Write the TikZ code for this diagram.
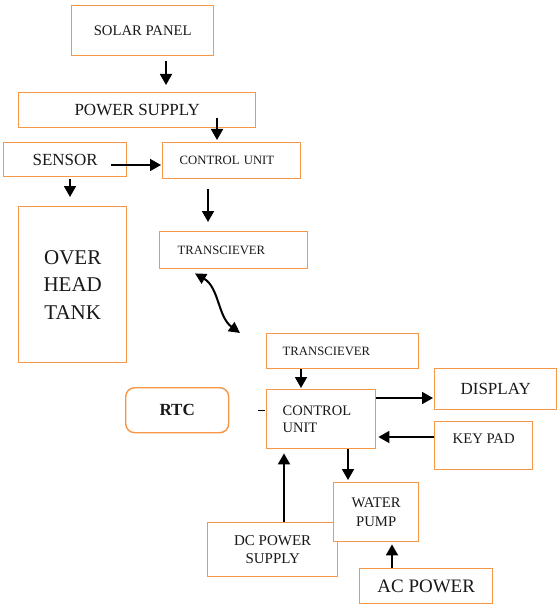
\documentclass[tikz,border=0pt]{standalone}
\usepackage{fontspec}
\setmainfont{Liberation Serif}
\usetikzlibrary{arrows.meta, calc}
\definecolor{boxorange}{RGB}{247,150,70}

\begin{document}
\begin{tikzpicture}[x=1pt, y=-1pt,
  blk/.style={draw=boxorange, line width=1.4pt, fill=white, inner sep=0pt, anchor=north west, text=black!90, align=center},
  arr/.style={-{Triangle[length=11pt,width=12pt]}, line width=1.8pt, black},
  arrtwo/.style={{Triangle[length=11pt,width=11pt]}-{Triangle[length=11pt,width=11pt]}, line width=2pt, black}]
\useasboundingbox (0,0) rectangle (557,604);

%the solar side
\node[blk, minimum width=237pt, minimum height=35pt, font=\fontsize{17}{20}\selectfont] (power) at (18,92) {POWER SUPPLY};
\node[blk, minimum width=142pt, minimum height=50pt, font=\fontsize{14.7}{17}\selectfont] (solar) at (71,5) {SOLAR PANEL};
\node[blk, minimum width=123pt, minimum height=34pt, font=\fontsize{17}{20}\selectfont] (sensor) at (3,142) {SENSOR};
\node[blk, minimum height=36pt, text width=104pt, inner xsep=17pt, align=left, font=\fontsize{12.7}{15}\selectfont] (cuone) at (162,142) {CONTROL UNIT};
\node[blk, minimum width=108pt, minimum height=156pt, font=\fontsize{21}{27.5}\selectfont] (tank) at (18,206) {OVER\\HEAD\\TANK};
\node[blk, minimum height=37pt, text width=112pt, inner xsep=18pt, align=left, font=\fontsize{12.7}{15}\selectfont] (trone) at (159,231) {TRANSCIEVER};

\draw[arr, shorten <=5pt, shorten >=7pt] (solar.south -| 166,0) -- (power.north -| 166,0);
\draw[arr, shorten <=-10pt, shorten >=2pt] (power.south -| 217,0) -- (cuone.north -| 217,0);
\draw[arr, shorten <=-16pt, shorten >=1pt] (sensor.east |- 0,165) -- (cuone.west |- 0,165);
\draw[arr, shorten <=2pt, shorten >=9pt] (sensor.south -| 70,0) -- (tank.north -| 70,0);
\draw[arr, shorten <=10pt, shorten >=9pt] (cuone.south -| 208,0) -- (trone.north -| 208,0);

%the pump side
\node[blk, minimum height=35pt, text width=120pt, inner xsep=16pt, align=left, font=\fontsize{12.7}{15}\selectfont] (trtwo) at (266,333) {TRANSCIEVER};
\node[blk, rounded corners=9pt, minimum width=103pt, minimum height=45pt, font=\bfseries\fontsize{17}{20}\selectfont] (rtc) at (125,387) {RTC};
\node[blk, minimum height=59pt, text width=77pt, inner xsep=16pt, align=left, font=\fontsize{14.5}{17}\selectfont] (cutwo) at (266,389) {CONTROL\\UNIT};
\node[blk, minimum width=122pt, minimum height=41pt, font=\fontsize{17}{20}\selectfont] (disp) at (434,368) {DISPLAY};
\node[blk, minimum width=98pt, minimum height=48pt, text depth=14pt, font=\fontsize{14.7}{17}\selectfont] (keypad) at (434,421) {KEY PAD};
\node[blk, minimum width=130pt, minimum height=54pt, font=\fontsize{15}{18}\selectfont] (dc) at (207,522) {DC POWER\\SUPPLY};
\node[blk, minimum width=85pt, minimum height=59pt, font=\fontsize{14.7}{19}\selectfont] (pump) at (333,482) {WATER\\PUMP};
\node[blk, minimum width=133pt, minimum height=35pt, font=\fontsize{19}{22}\selectfont] (ac) at (359,568) {AC POWER};

\draw[arrtwo] ($(trone.south west)+(36,4)$) .. controls ($(trone.south west)+(60,18)$) and ($(trtwo.north west)+(-48,-16)$) .. ($(trtwo.north west)+(-26,0)$);
\draw[arr, shorten >=1pt] (trtwo.south -| 301,0) -- (cutwo.north -| 301,0);
\draw[arr, shorten >=1pt] (cutwo.east |- 0,398) -- (disp.west |- 0,398);
\draw[arr, shorten >=2pt] (keypad.west |- 0,437) -- (cutwo.east |- 0,437);
\draw[arr, shorten >=2pt] (cutwo.south -| 348,0) -- (pump.north -| 348,0);
\draw[arr, shorten >=4pt] (dc.north -| 284,0) -- (cutwo.south -| 284,0);
\draw[arr, shorten >=2pt] (ac.north -| 392,0) -- (pump.south -| 392,0);
\draw[line width=1pt] (cutwo.west |- rtc.east) ++(-1,0) -- ++(-7,0);
\end{tikzpicture}
\end{document}
